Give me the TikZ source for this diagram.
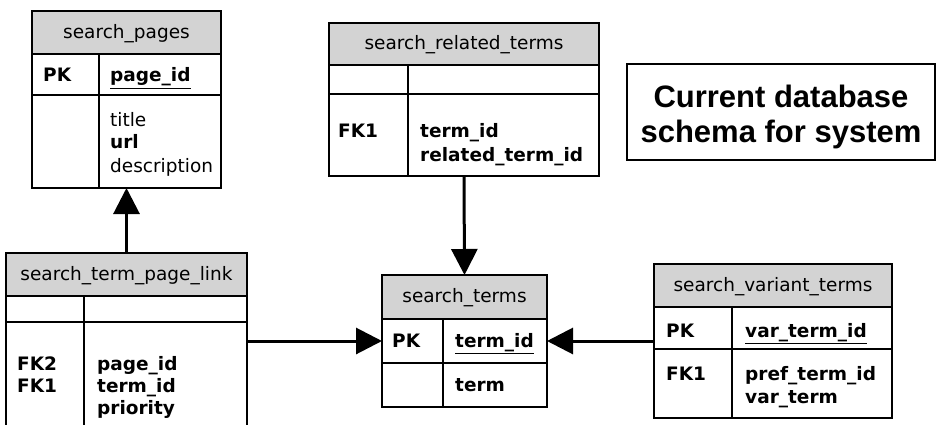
\documentclass[tikz,border=0pt]{standalone}
\usepackage{fontspec}
\setmainfont{DejaVu Sans}
\newfontfamily\titlefont{Liberation Sans}
\usetikzlibrary{arrows.meta}
\definecolor{hdrgray}{RGB}{211,211,211}
\newcommand\tabsize{\fontsize{18.5}{22}\selectfont}

\begin{document}
\begin{tikzpicture}[x=1pt,y=-1pt,
  tab/.style={draw, line width=1.8pt, anchor=north west, outer sep=0pt, inner sep=0pt},
  hdr/.style={tab, fill=hdrgray, minimum height=43pt, font=\tabsize, text height=15.5pt, text depth=4pt},
  txt/.style={anchor=base west, inner sep=0pt, font=\tabsize},
  key/.style={txt, font=\tabsize\bfseries},
  grid/.style={line width=1.8pt},
  conn/.style={line width=3pt, -{Triangle[length=26pt,width=26pt]}}]
  \useasboundingbox (0,0) rectangle (942,425);
  \clip (0,0) rectangle (942,425);

  % search_pages
  \node[hdr, minimum width=189pt] (pages) at (32,11) {search\_pages};
  \node[tab, minimum width=189pt, minimum height=41pt] (pages-1) at (pages.south west) {};
  \node[tab, minimum width=189pt, minimum height=93pt] (pages-2) at (pages-1.south west) {};
  \draw[grid] (99,54) -- (99,188);
  \path (43,82)   node[key] (pages-k1) {PK}
        (110,82)  node[key] (pages-f1) {\underline{page\_id}}
        (110,127) node[txt] (pages-f2) {title}
        (110,149) node[key] (pages-f3) {url}
        (110,172) node[txt] (pages-f4) {description};

  % search_related_terms
  \node[hdr, minimum width=270pt, minimum height=42pt] (rel) at (329,23) {search\_related\_terms};
  \node[tab, minimum width=270pt, minimum height=29pt] (rel-1) at (rel.south west) {};
  \node[tab, minimum width=270pt, minimum height=82pt] (rel-2) at (rel-1.south west) {};
  \draw[grid] (408,65) -- (408,176);
  \path (338,138) node[key] (rel-k1) {FK1}
        (420,138) node[key] (rel-f1) {term\_id}
        (420,161) node[key] (rel-f2) {related\_term\_id};

  % search_term_page_link
  \node[hdr, minimum width=241pt] (link) at (6,253) {search\_term\_page\_link};
  \node[tab, minimum width=241pt, minimum height=26pt] (link-1) at (link.south west) {};
  \node[tab, minimum width=241pt, minimum height=130pt] (link-2) at (link-1.south west) {};
  \draw[grid] (84,296) -- (84,452);
  \path (17,370) node[key] (link-k1) {FK2}
        (17,392) node[key] (link-k2) {FK1}
        (97,370) node[key] (link-f1) {page\_id}
        (97,392) node[key] (link-f2) {term\_id}
        (97,414) node[key] (link-f3) {priority};

  % search_terms
  \node[hdr, minimum width=165pt, minimum height=44pt] (terms) at (382,275) {search\_terms};
  \node[tab, minimum width=165pt, minimum height=44pt] (terms-1) at (terms.south west) {};
  \node[tab, minimum width=165pt, minimum height=44pt] (terms-2) at (terms-1.south west) {};
  \draw[grid] (443,319) -- (443,407);
  \path (392,347) node[key] (terms-k1) {PK}
        (455,347) node[key] (terms-f1) {\underline{term\_id}}
        (455,391) node[key] (terms-f2) {term};

  % search_variant_terms
  \node[hdr, minimum width=238pt] (var) at (654,264) {search\_variant\_terms};
  \node[tab, minimum width=238pt, minimum height=42pt] (var-1) at (var.south west) {};
  \node[tab, minimum width=238pt, minimum height=69pt] (var-2) at (var-1.south west) {};
  \draw[grid] (732,307) -- (732,418);
  \path (666,337) node[key] (var-k1) {PK}
        (745,337) node[key] (var-f1) {\underline{var\_term\_id}}
        (666,380) node[key] (var-k2) {FK1}
        (745,380) node[key] (var-f2) {pref\_term\_id}
        (745,403) node[key] (var-f3) {var\_term};

  % title
  \node[draw, line width=1.5pt, minimum width=308pt, minimum height=96pt] (title) at (781,112) {};
  \node[align=center, inner sep=0pt, font=\titlefont\bfseries\fontsize{31}{35}\selectfont] (title-t) at (781,117)
    {Current database\\schema for system};

  % relationships
  \draw[conn] (link.north) -- (pages-2.south);
  \draw[conn] (rel-2.south) -- (terms.north);
  \draw[conn] (link-2.east |- terms-1.west) -- (terms-1.west);
  \draw[conn] (var-1.west |- terms-1.east) -- (terms-1.east);
\end{tikzpicture}
\end{document}
